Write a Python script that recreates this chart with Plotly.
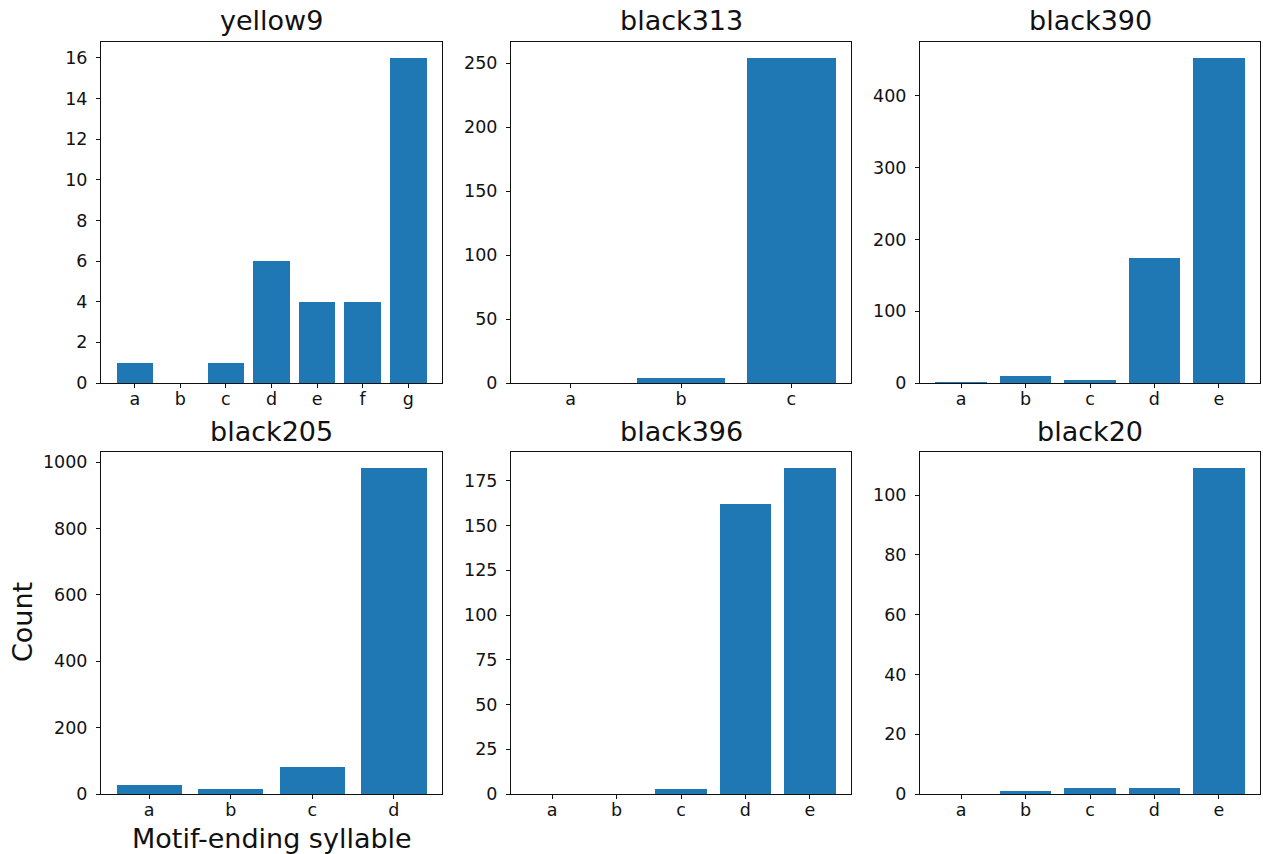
import plotly.graph_objects as go

# Per-bird counts of the syllable that ends each motif
birds = ["yellow9", "black313", "black390", "black205", "black396", "black20"]

yellow9_syllables = ["a", "b", "c", "d", "e", "f", "g"]
yellow9_counts = [1, 0, 1, 6, 4, 4, 16]

black313_syllables = ["a", "b", "c"]
black313_counts = [0, 4, 254]

black390_syllables = ["a", "b", "c", "d", "e"]
black390_counts = [1, 10, 5, 174, 453]

black205_syllables = ["a", "b", "c", "d"]
black205_counts = [26, 15, 80, 982]

black396_syllables = ["a", "b", "c", "d", "e"]
black396_counts = [0, 0, 3, 162, 182]

black20_syllables = ["a", "b", "c", "d", "e"]
black20_counts = [0, 1, 2, 2, 109]

y_tick_steps = [2, 50, 100, 200, 25, 20]

panels = [
    (yellow9_syllables, yellow9_counts),
    (black313_syllables, black313_counts),
    (black390_syllables, black390_counts),
    (black205_syllables, black205_counts),
    (black396_syllables, black396_counts),
    (black20_syllables, black20_counts),
]

W, H = 1263, 854
FONT = "DejaVu Sans"
BAR_COLOR = "#1f77b4"
BAR_WIDTH = 0.8

# Axes boxes in pixels: (left, right) per column, (top, bottom) per row
col_px = [(101, 442), (511, 851), (920, 1260)]
row_px = [(41.7, 383), (452, 794)]

fig = go.Figure()
annotations = []

for i, ((cats, counts), bird, step) in enumerate(zip(panels, birds, y_tick_steps)):
    r, c = divmod(i, 3)
    n = len(cats)
    xs = list(range(n))
    ax = "" if i == 0 else str(i + 1)
    fig.add_trace(go.Bar(
        x=xs, y=counts, width=BAR_WIDTH,
        marker=dict(color=BAR_COLOR, line=dict(width=0)),
        xaxis="x" + ax, yaxis="y" + ax, showlegend=False,
    ))

    # matplotlib-style autoscale: 5% padding around the bars in x, top margin in y
    span = (n - 1) + BAR_WIDTH
    pad = 0.05 * span
    x_range = [-BAR_WIDTH / 2 - pad, n - 1 + BAR_WIDTH / 2 + pad]
    y_range = [0, max(counts) * 1.05]

    left, right = col_px[c]
    top, bottom = row_px[r]
    axis_common = dict(
        showline=True, mirror=True, linecolor="#111111", linewidth=1.1,
        ticks="outside", ticklen=4, tickwidth=1.1, tickcolor="#111111",
        showgrid=False, zeroline=False, automargin=False,
        tickfont=dict(family=FONT, size=17.5, color="#111111"),
    )
    fig.layout["xaxis" + ax] = dict(
        domain=[left / W, right / W], anchor="y" + ax,
        range=x_range, tickmode="array", tickvals=xs, ticktext=cats,
        ticklabelstandoff=-4,
        **axis_common,
    )
    fig.layout["yaxis" + ax] = dict(
        domain=[1 - bottom / H, 1 - top / H], anchor="x" + ax,
        range=y_range, tick0=0, dtick=step,
        ticklabelstandoff=5,
        **axis_common,
    )

    annotations.append(dict(
        text=bird, x=(left + right) / 2 / W, y=1 - (top - 21) / H,
        xref="paper", yref="paper", xanchor="center", yanchor="middle",
        showarrow=False, font=dict(family=FONT, size=27, color="#111111"),
    ))

# Shared axis labels on the lower-left panel
annotations.append(dict(
    text="Count", x=22 / W, y=1 - 622 / H, xref="paper", yref="paper",
    xanchor="center", yanchor="middle", textangle=-90, showarrow=False,
    font=dict(family=FONT, size=27, color="#111111"),
))
annotations.append(dict(
    text="Motif-ending syllable", x=271.5 / W, y=1 - 838 / H,
    xref="paper", yref="paper", xanchor="center", yanchor="middle",
    showarrow=False, font=dict(family=FONT, size=27, color="#111111"),
))

fig.update_layout(
    width=W, height=H,
    margin=dict(l=0, r=0, t=0, b=0),
    paper_bgcolor="white", plot_bgcolor="white",
    bargap=0, annotations=annotations,
    font=dict(family=FONT),
)

fig.write_html("out.html", config={"displayModeBar": False})
